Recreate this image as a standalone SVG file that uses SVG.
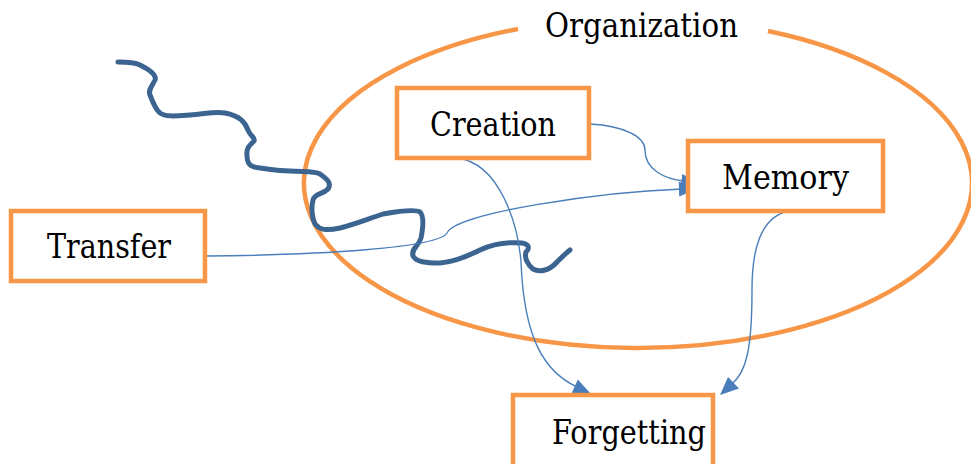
<svg xmlns="http://www.w3.org/2000/svg" width="971" height="464" viewBox="0 0 971 464">
<defs>
<style>
.box{fill:#fff;stroke:#F79646;stroke-width:4.5}
.lbl{font-family:"DejaVu Serif",serif;font-size:34px;fill:#000;text-anchor:middle}
.con{fill:none;stroke:#4A7EBB;stroke-width:1.4}
.ah{fill:#4A7EBB}
</style>
</defs>
<rect width="971" height="464" fill="#fff"/>
<g id="organization">
<path d="M518,29 A334,165 0 1 0 768,31" fill="none" stroke="#F79646" stroke-width="4.5"/>
<text class="lbl" x="641.5" y="37" textLength="193" lengthAdjust="spacingAndGlyphs">Organization</text>
</g>
<g id="river">
<path d="M118,62 C128,62 136,63 140,65 C150,70 157,75 155,80 C152,86 148,90 150,95 C153,103 156,110 160,113 C166,117 175,116 190,115 C205,114 215,111 225,113 C240,116 245,122 248,130 C250,136 256,138 254,141 C250,145 246,148 247,155 C247,163 249,167 260,168 C270,169 275,171 290,171 C305,172 315,171 320,174 C327,179 332,183 328,189 C322,195 315,193 313,200 C311,208 312,218 315,224 C320,230 326,231 340,228 C355,224 365,220 383,214 C400,211 415,209 420,212 C424,216 423,228 421,238 C419,246 411,248 413,256 C416,262 426,263 440,263 C455,262 468,256 480,250 C495,243 510,242 522,243 C529,244 530,248 526,252 C524,258 528,265 533,269 C540,273 550,270 557,262 C562,257 566,253 570,250" fill="none" stroke="#3C6491" stroke-width="5" stroke-linecap="round" stroke-linejoin="round"/>
</g>
<g id="connectors">
<path class="con" d="M590,124 C625,126 645,137 645,150 C645,170 665,179 684,181"/>
<polygon class="ah" points="699,183 680.5,189 682.3,174"/>
<path class="con" d="M205,256 C320,255 438,248 447,233 C455,213 600,192 682,189"/>
<polygon class="ah" points="697,189 679.2,196.5 678.8,181.5"/>
<path class="con" d="M457,158 C500,163 518,225 521,262 C524,340 545,372 577,387"/>
<polygon class="ah" points="591,394 571.5,393.5 577.8,379.5"/>
<path class="con" d="M788,211 C760,218 752,250 752,290 C752,350 746,372 732,384"/>
<polygon class="ah" points="720,395 728,377 739,388.5"/>
</g>
<g id="creation">
<rect class="box" x="397" y="88" width="192" height="70"/>
<text class="lbl" x="493" y="136" textLength="126" lengthAdjust="spacingAndGlyphs">Creation</text>
</g>
<g id="memory">
<rect class="box" x="688" y="141" width="195" height="70"/>
<text class="lbl" x="785.5" y="189" textLength="127" lengthAdjust="spacingAndGlyphs">Memory</text>
</g>
<g id="transfer">
<rect class="box" x="11" y="211" width="194" height="70"/>
<text class="lbl" x="109" y="258" textLength="124" lengthAdjust="spacingAndGlyphs">Transfer</text>
</g>
<g id="forgetting">
<rect class="box" x="513" y="395" width="200" height="80"/>
<text class="lbl" x="629" y="444" textLength="154" lengthAdjust="spacingAndGlyphs">Forgetting</text>
</g>
</svg>
